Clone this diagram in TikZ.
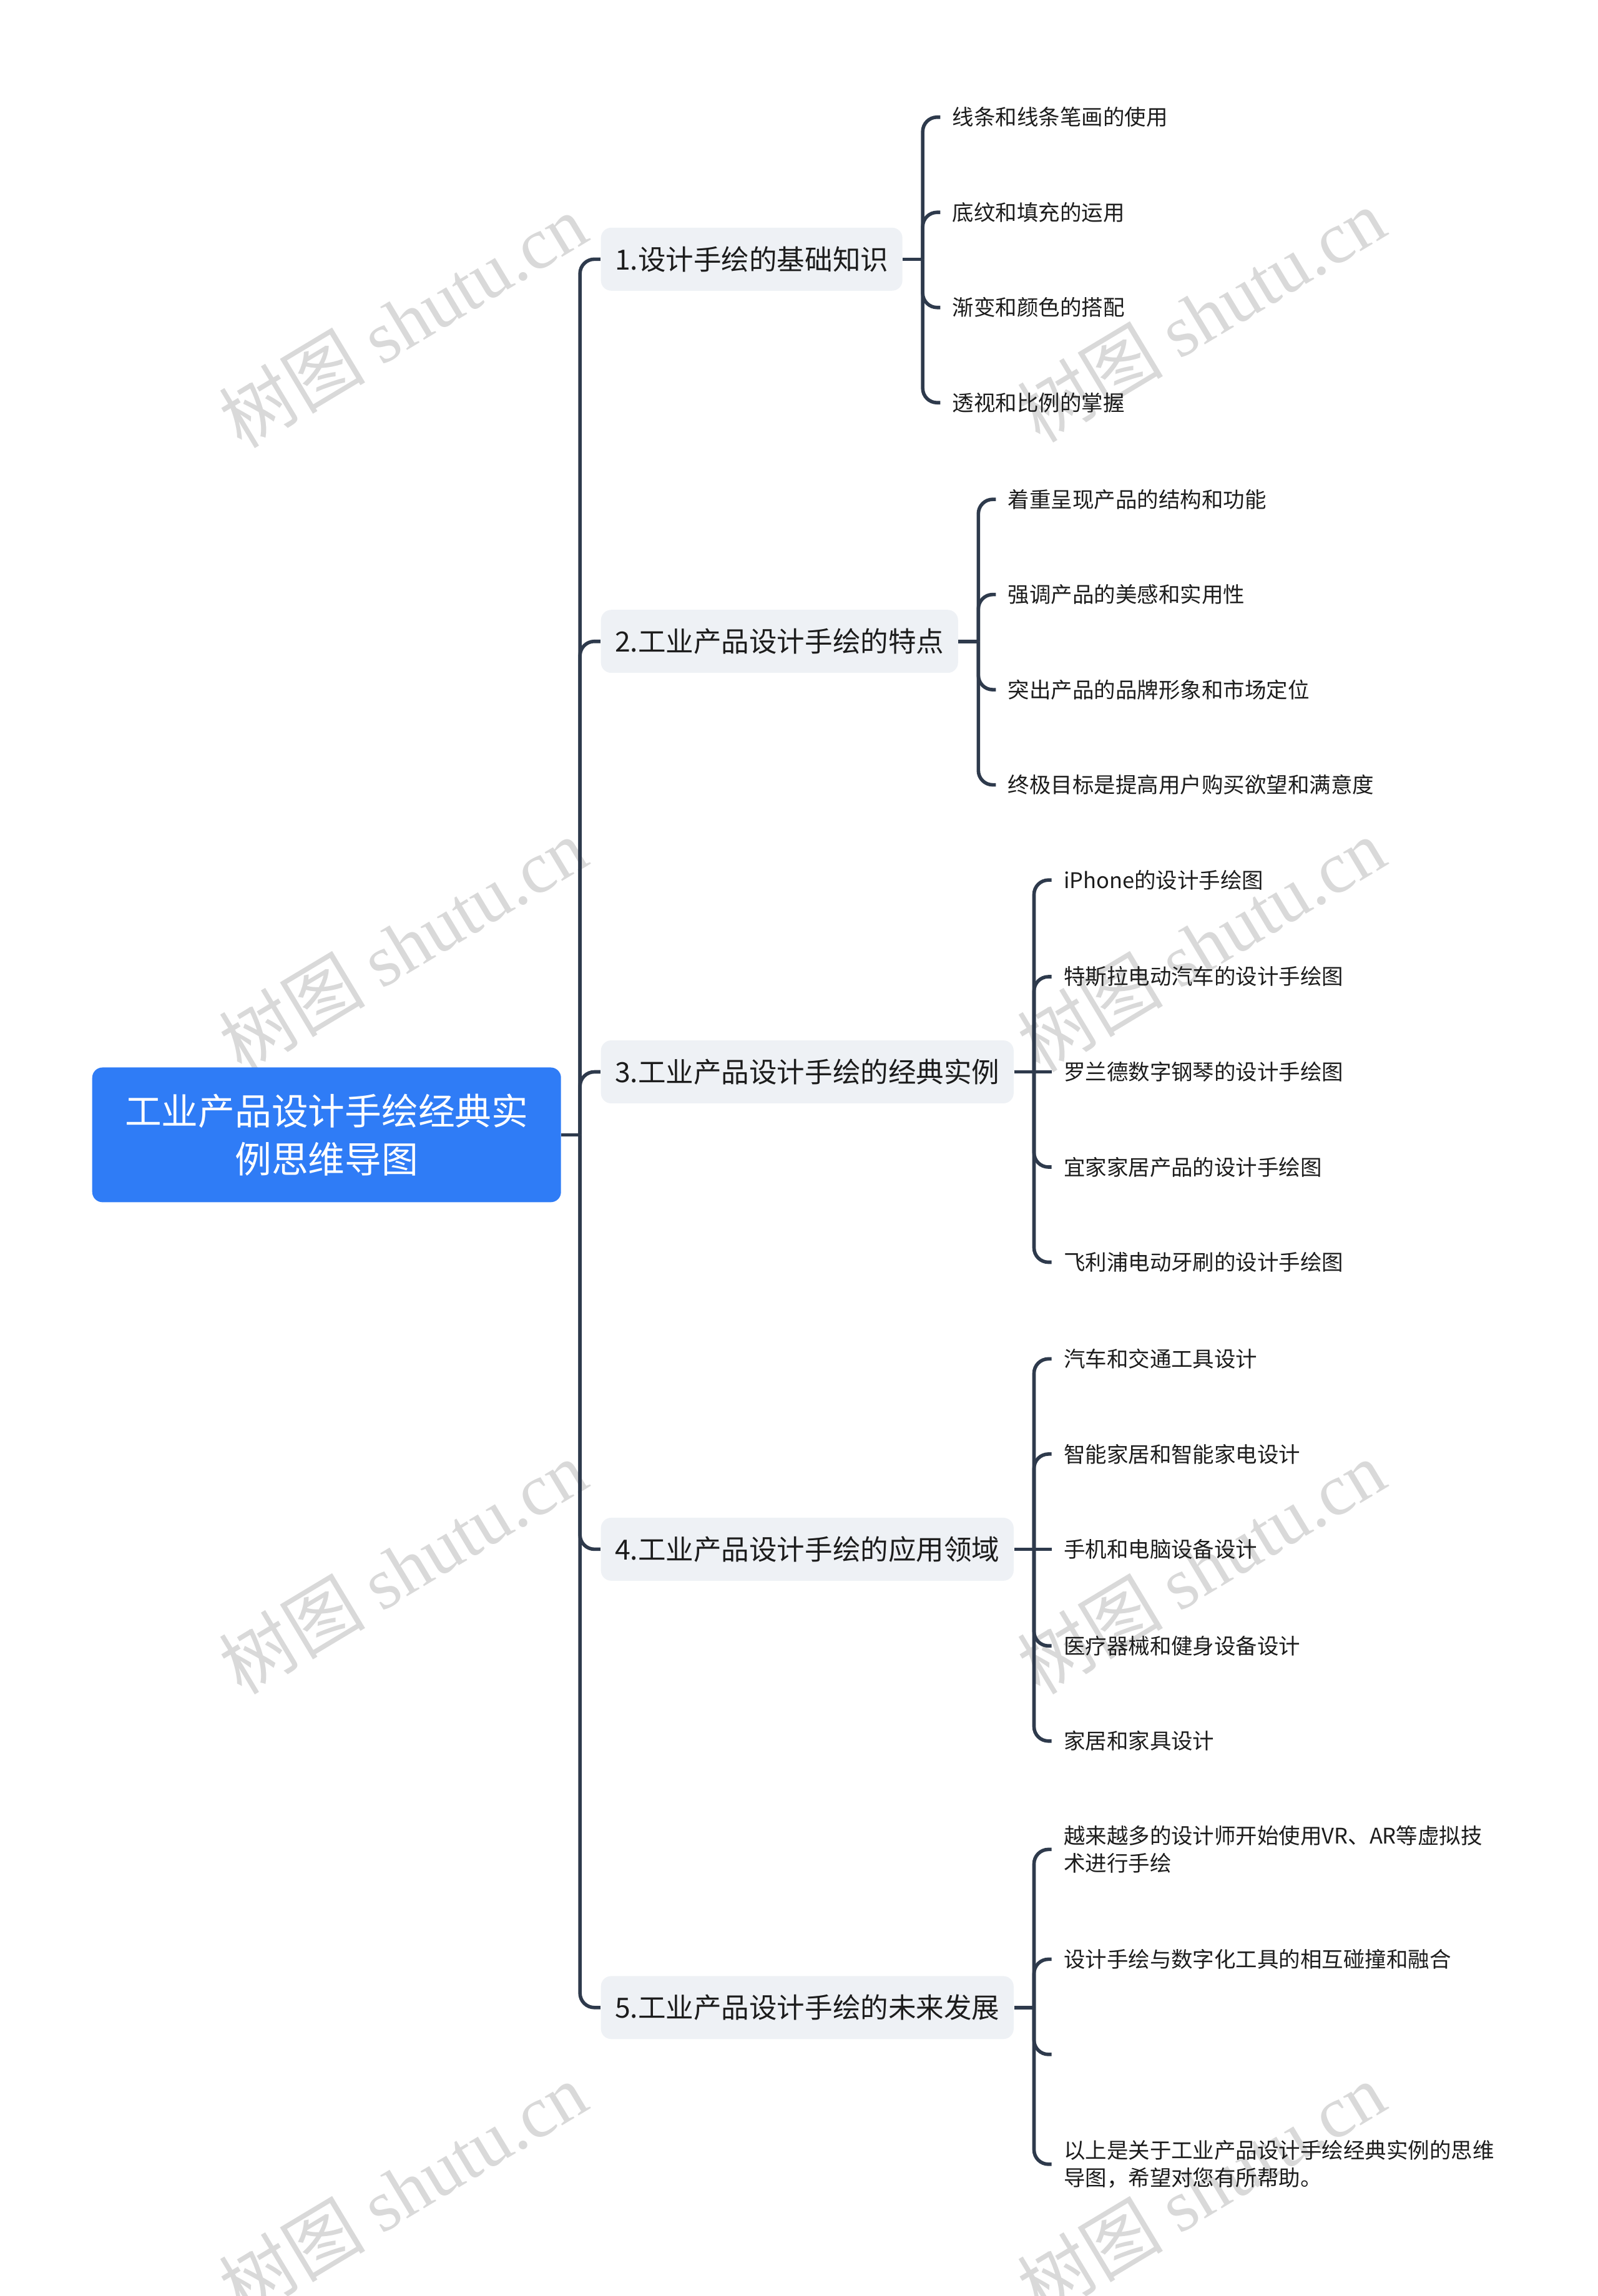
\documentclass[tikz,border=0pt]{standalone}
\usepackage{fontspec}
\setmainfont{Noto Sans CJK SC}
\newfontfamily\wmserif{Liberation Serif}
\usepackage{tikz}
\definecolor{rootblue}{HTML}{2F7CF6}
\definecolor{branchgray}{HTML}{EEF1F5}
\definecolor{linedark}{HTML}{2E3A4C}
\definecolor{textdark}{HTML}{1C1C1C}
\definecolor{wmgray}{HTML}{D9D9D9}

\begin{document}
\begin{tikzpicture}[
x=0.025cm, y=-0.025cm,
root/.style={fill=rootblue, text=white, rounded corners=5pt, minimum width=8cm, minimum height=2.3cm, align=center, font=\fontsize{17.8}{23.5}\selectfont},
branch/.style={fill=branchgray, text=textdark, rounded corners=5pt, minimum height=1.075cm, inner xsep=0.24cm, anchor=west, font=\fontsize{13.5}{16}\selectfont},
leaf/.style={text=textdark, inner xsep=0.2cm, inner ysep=0pt, anchor=west, align=left, font=\fontsize{10.45}{13.5}\selectfont},
conn/.style={draw=linedark, line width=1.7pt, rounded corners=7pt},
wmark/.style={text=wmgray, rotate=31, font=\fontsize{35.5}{38}\selectfont}
]
\useasboundingbox (0,0) rectangle (1091,1568);

% watermarks
\node[wmark] (wm1) at (275,219) {树图 {\wmserif shutu.cn}};
\node[wmark] (wm2) at (820,215) {树图 {\wmserif shutu.cn}};
\node[wmark] (wm3) at (275,645) {树图 {\wmserif shutu.cn}};
\node[wmark] (wm4) at (820,645) {树图 {\wmserif shutu.cn}};
\node[wmark] (wm5) at (275,1070) {树图 {\wmserif shutu.cn}};
\node[wmark] (wm6) at (820,1070) {树图 {\wmserif shutu.cn}};
\node[wmark] (wm7) at (275,1495) {树图 {\wmserif shutu.cn}};
\node[wmark] (wm8) at (820,1495) {树图 {\wmserif shutu.cn}};

% root and main branches
\node[root] (root) at (223,775) {工业产品设计手绘经典实\\例思维导图};
\node[branch] (b1) at (410,177) {1.设计手绘的基础知识};
\node[branch] (b2) at (410,438) {2.工业产品设计手绘的特点};
\node[branch] (b3) at (410,732) {3.工业产品设计手绘的经典实例};
\node[branch] (b4) at (410,1058) {4.工业产品设计手绘的应用领域};
\node[branch] (b5) at (410,1371) {5.工业产品设计手绘的未来发展};

% leaves
\node[leaf] (l11) at (642,80) {线条和线条笔画的使用};
\node[leaf] (l12) at (642,145) {底纹和填充的运用};
\node[leaf] (l13) at (642,210) {渐变和颜色的搭配};
\node[leaf] (l14) at (642,275) {透视和比例的掌握};

\node[leaf] (l21) at (680,341) {着重呈现产品的结构和功能};
\node[leaf] (l22) at (680,406) {强调产品的美感和实用性};
\node[leaf] (l23) at (680,471) {突出产品的品牌形象和市场定位};
\node[leaf] (l24) at (680,536) {终极目标是提高用户购买欲望和满意度};

\node[leaf] (l31) at (718,601) {iPhone的设计手绘图};
\node[leaf] (l32) at (718,667) {特斯拉电动汽车的设计手绘图};
\node[leaf] (l33) at (718,732) {罗兰德数字钢琴的设计手绘图};
\node[leaf] (l34) at (718,797) {宜家家居产品的设计手绘图};
\node[leaf] (l35) at (718,862) {飞利浦电动牙刷的设计手绘图};

\node[leaf] (l41) at (718,928) {汽车和交通工具设计};
\node[leaf] (l42) at (718,993) {智能家居和智能家电设计};
\node[leaf] (l43) at (718,1058) {手机和电脑设备设计};
\node[leaf] (l44) at (718,1124) {医疗器械和健身设备设计};
\node[leaf] (l45) at (718,1189) {家居和家具设计};

\node[leaf] (l51) at (718,1263) {越来越多的设计师开始使用VR、AR等虚拟技\\术进行手绘};
\node[leaf] (l52) at (718,1338) {设计手绘与数字化工具的相互碰撞和融合};
\coordinate (l53) at (718,1403);
\node[leaf] (l54) at (718,1478) {以上是关于工业产品设计手绘经典实例的思维\\导图，希望对您有所帮助。};

% connectors
\coordinate (hub) at (396,775);
\coordinate (h1) at (630,177);
\coordinate (h2) at (668,438);
\coordinate (h3) at (706,732);
\coordinate (h4) at (706,1058);
\coordinate (h5) at (706,1371);

\draw[conn] (root.east) -- (hub);
\draw[conn] (hub) |- (b1.west);
\draw[conn] (hub) |- (b2.west);
\draw[conn] (hub) |- (b3.west);
\draw[conn] (hub) |- (b4.west);
\draw[conn] (hub) |- (b5.west);

\draw[conn] (b1.east) -- (h1);
\draw[conn] (h1) |- (l11.west);
\draw[conn] (h1) |- (l12.west);
\draw[conn] (h1) |- (l13.west);
\draw[conn] (h1) |- (l14.west);

\draw[conn] (b2.east) -- (h2);
\draw[conn] (h2) |- (l21.west);
\draw[conn] (h2) |- (l22.west);
\draw[conn] (h2) |- (l23.west);
\draw[conn] (h2) |- (l24.west);

\draw[conn] (b3.east) -- (h3);
\draw[conn] (h3) |- (l31.west);
\draw[conn] (h3) |- (l32.west);
\draw[conn] (h3) -- (l33.west);
\draw[conn] (h3) |- (l34.west);
\draw[conn] (h3) |- (l35.west);

\draw[conn] (b4.east) -- (h4);
\draw[conn] (h4) |- (l41.west);
\draw[conn] (h4) |- (l42.west);
\draw[conn] (h4) -- (l43.west);
\draw[conn] (h4) |- (l44.west);
\draw[conn] (h4) |- (l45.west);

\draw[conn] (b5.east) -- (h5);
\draw[conn] (h5) |- (l51.west);
\draw[conn] (h5) |- (l52.west);
\draw[conn] (h5) |- (l53);
\draw[conn] (h5) |- (l54.west);
\end{tikzpicture}
\end{document}
